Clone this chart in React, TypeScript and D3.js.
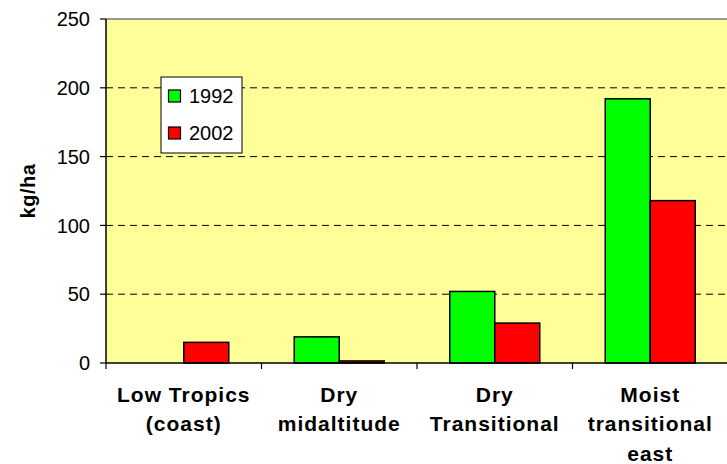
import React from "react";
import * as d3 from "d3";

const categories = [["Low Tropics", "(coast)"], ["Dry", "midaltitude"], ["Dry", "Transitional"], ["Moist", "transitional", "east"]];
const seriesNames = ["1992", "2002"];
const values1992 = [0, 19, 52, 192];
const values2002 = [15, 1.5, 29, 118];
const yTicks = [0, 50, 100, 150, 200, 250];
const colors = ["#00ff00", "#ff0000"];

export default function App() {
  const W = 727, H = 464;
  const left = 106, right = 728, top = 19, bottom = 363;
  const y = d3.scaleLinear().domain([0, 250]).range([bottom, top]);
  const x = d3.scaleBand().domain(categories.map((_, i) => String(i))).range([left, right]);
  const inner = d3.scaleBand().domain(seriesNames).range([0, 90]);
  const series = [values1992, values2002];
  const font = "Liberation Sans, Arial, sans-serif";
  return (
    <svg width={W} height={H} style={{ position: "absolute", left: 0, top: 0 }} fontFamily={font}>
      <rect x={0} y={0} width={W} height={H} fill="#fff" />
      <rect x={left} y={top} width={right - left} height={bottom - top} fill="#ffff99" />
      <line x1={left} x2={right} y1={top} y2={top} stroke="#999" strokeWidth={2} />
      {yTicks.filter(t => t > 0 && t < 250).map(t => (
        <line key={t} x1={left} x2={right} y1={y(t)} y2={y(t)} stroke="#000" strokeWidth={1} strokeDasharray="7,5" />
      ))}
      {categories.map((_, i) => {
        const cx = x(String(i))! + x.bandwidth() / 2;
        return seriesNames.map((s, j) => {
          const v = series[j][i];
          if (v <= 0) return null;
          const bx = cx - 45 + inner(s)!;
          return <rect key={i + s} x={bx} y={y(v)} width={inner.bandwidth()} height={bottom - y(v)} fill={colors[j]} stroke="#000" strokeWidth={1.5} />;
        });
      })}
      <line x1={left} x2={left} y1={top} y2={bottom} stroke="#000" strokeWidth={1.5} />
      <line x1={left} x2={right} y1={bottom} y2={bottom} stroke="#000" strokeWidth={1.5} />
      {yTicks.map(t => (
        <g key={t}>
          <line x1={100} x2={left} y1={y(t)} y2={y(t)} stroke="#000" strokeWidth={1.2} />
          <text x={90} y={y(t)} dy="0.36em" textAnchor="end" fontSize={20}>{t}</text>
        </g>
      ))}
      {categories.map((_, i) => (
        <line key={i} x1={x(String(i))!} x2={x(String(i))!} y1={bottom} y2={bottom + 6} stroke="#000" strokeWidth={1.2} />
      ))}
      {categories.map((lines, i) => {
        const cx = x(String(i))! + x.bandwidth() / 2;
        return (
          <text key={i} x={cx} textAnchor="middle" fontSize={21} fontWeight="bold" letterSpacing={1}>
            {lines.map((l, k) => <tspan key={k} x={cx} y={402 + k * 29.3}>{l}</tspan>)}
          </text>
        );
      })}
      <text transform={`translate(35,${191}) rotate(-90)`} textAnchor="middle" fontSize={20} fontWeight="bold" letterSpacing={0.5}>kg/ha</text>
      <rect x={161} y={77} width={81} height={76} fill="#fff" stroke="#000" strokeWidth={1} />
      {seriesNames.map((s, j) => (
        <g key={s}>
          <rect x={168.5} y={90 + j * 37} width={12} height={12} fill={colors[j]} stroke="#000" strokeWidth={1.2} />
          <text x={189} y={96 + j * 37} dy="0.36em" fontSize={20}>{s}</text>
        </g>
      ))}
    </svg>
  );
}
